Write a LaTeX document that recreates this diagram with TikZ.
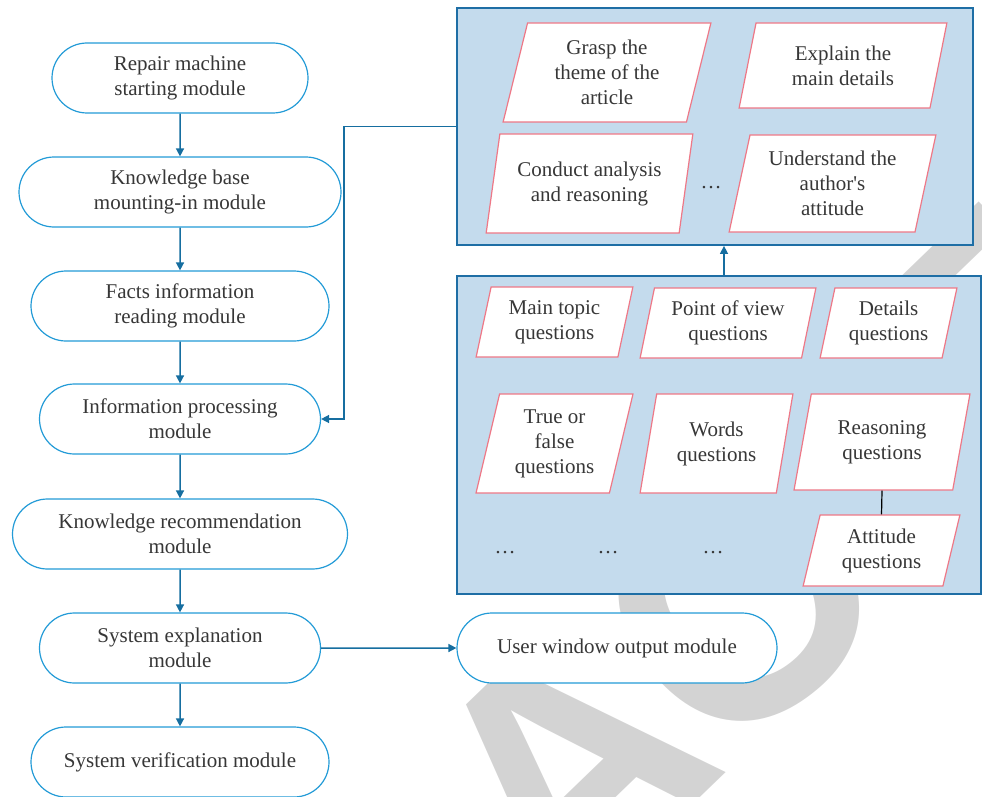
\documentclass[tikz,border=0pt]{standalone}
\usepackage{fontspec}
\setmainfont{Liberation Serif}
\newfontfamily\wmfont{Liberation Sans}
\usepackage{tikz}
\usetikzlibrary{shapes, arrows.meta, positioning}

\definecolor{modblue}{RGB}{35,155,215}
\definecolor{lineblue}{RGB}{22,110,160}
\definecolor{boxfill}{RGB}{196,219,237}
\definecolor{boxline}{RGB}{30,110,165}
\definecolor{itemred}{RGB}{238,120,135}
\definecolor{txtgray}{RGB}{55,55,55}
\definecolor{wmgray}{RGB}{211,211,211}

\tikzset{
  module/.style={draw=modblue, line width=1.2pt, rounded rectangle, fill=white,
    minimum height=70pt, inner sep=0pt, align=center, text=txtgray,
    font=\fontsize{21}{25}\selectfont},
  item/.style={draw=itemred, line width=1.2pt, trapezium, trapezium left angle=76,
    trapezium right angle=104, trapezium stretches=true, fill=white,
    inner sep=0pt, align=center, text=txtgray, font=\fontsize{21}{25}\selectfont},
  group/.style={draw=boxline, line width=1.8pt, fill=boxfill, inner sep=0pt},
  flow/.style={draw=lineblue, line width=1.5pt, -{Triangle[length=8pt,width=8pt]}},
  more/.style={inner sep=0pt, text=txtgray, font=\fontsize{21}{25}\selectfont},
  wmark/.style={inner sep=0pt, text=wmgray, rotate=44,
    font=\wmfont\bfseries\fontsize{333}{333}\selectfont},
}

\begin{document}
\begin{tikzpicture}[x=1pt, y=-1pt]
  \useasboundingbox (0,0) rectangle (982,797);
  % watermark letters, under everything else
  \node[wmark] (wma) at (566,768) {A};
  \node[wmark, rotate=-4] (wmc) at (735,605) {C};
  \node[wmark] (wmt) at (988,352) {T};

  % module chain
  \begin{scope}[every node/.style={module}]
    \node[minimum width=256pt] (start) at (180,78) {Repair machine\\starting module};
    \node[minimum width=322pt] (mount) at (180,192) {Knowledge base\\mounting-in module};
    \node[minimum width=298pt] (facts) at (180,306) {Facts information\\reading module};
    \node[minimum width=281pt] (proc) at (180,419) {Information processing\\module};
    \node[minimum width=335pt] (recom) at (180,534) {Knowledge recommendation\\module};
    \node[minimum width=281pt] (expl) at (180,648) {System explanation\\module};
    \node[minimum width=298pt] (verif) at (180,762) {System verification module};
    \node[minimum width=320pt] (user) at (617,648) {User window output module};
  \end{scope}

  % reading skills
  \node[group, minimum width=516pt, minimum height=237pt] (skills) at (715,126.5) {};
  \node[item, minimum width=208pt, minimum height=99pt] (theme) at (607,72.5) {Grasp the\\theme of the\\article};
  \node[item, minimum width=208pt, minimum height=85pt] (details) at (843,65.5) {Explain the\\main details};
  \node[item, minimum width=207pt, minimum height=99pt] (analysis) at (589.5,183.5) {Conduct analysis\\and reasoning};
  \node[item, minimum width=207pt, minimum height=97pt] (author) at (832.5,183.5) {Understand the\\author\textquotesingle s\\attitude};
  \node[more] (dots1) at (711,188) {\dots};

  % question types
  \node[group, minimum width=524pt, minimum height=318pt] (types) at (719,435) {};
  \node[item, minimum width=157pt, minimum height=70pt] (qtopic) at (554.5,322) {Main topic\\questions};
  \node[item, minimum width=176pt, minimum height=70pt] (qview) at (728,323) {Point of view\\questions};
  \node[item, minimum width=137pt, minimum height=70pt] (qdet) at (888.5,323) {Details\\questions};
  \node[item, minimum width=157pt, minimum height=99pt] (qtrue) at (554.5,443.5) {True or\\false\\questions};
  \node[item, minimum width=153pt, minimum height=99pt] (qword) at (716.5,443.5) {Words\\questions};
  \node[item, minimum width=176pt, minimum height=96pt] (qreas) at (882,442) {Reasoning\\questions};
  \node[item, minimum width=157pt, minimum height=71pt] (qatt) at (881.5,550.5) {Attitude\\questions};
  \node[more] (dots2) at (505,553) {\dots};
  \node[more] (dots3) at (608,553) {\dots};
  \node[more] (dots4) at (713,553) {\dots};

  % connectors
  \draw[flow] (start) -- (mount);
  \draw[flow] (mount) -- (facts);
  \draw[flow] (facts) -- (proc);
  \draw[flow] (proc) -- (recom);
  \draw[flow] (recom) -- (expl);
  \draw[flow] (expl) -- (verif);
  \draw[flow] (expl) -- (user);
  \draw[flow] (skills.west) -- ++(-112,0) |- (proc.east);
  \draw[flow] ([xshift=5pt]types.north) -- ([xshift=5pt]types.north |- skills.south);
  \draw[line width=1.2pt] (qreas.south) -- (qatt.north);
\end{tikzpicture}
\end{document}
